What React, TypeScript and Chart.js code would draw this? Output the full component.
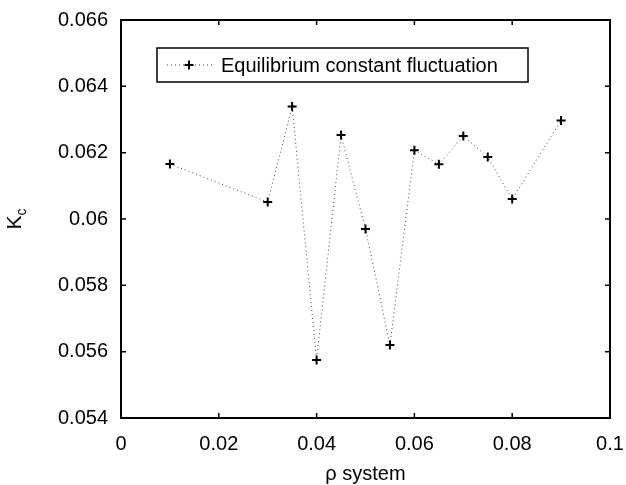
import React, { useEffect, useRef } from "react";
import { Chart, registerables } from "chart.js";

Chart.register(...registerables);

const rhoSystem = [0.01, 0.03, 0.035, 0.04, 0.045, 0.05, 0.055, 0.06, 0.065, 0.07, 0.075, 0.08, 0.09];
const kcValues = [0.06166, 0.06051, 0.06339, 0.05575, 0.06253, 0.0597, 0.0562, 0.06207, 0.06165, 0.0625, 0.06187, 0.0606, 0.06297];
const xTicks = [0, 0.02, 0.04, 0.06, 0.08, 0.1];
const yTicks = [0.054, 0.056, 0.058, 0.06, 0.062, 0.064, 0.066];
const seriesLabel = "Equilibrium constant fluctuation";
const xTitle = "ρ system";

const FONT = '"Liberation Sans", Arial, Helvetica, sans-serif';
const fmt = (v: number) => String(parseFloat(v.toFixed(4)));

const framePlugin = {
  id: "frame",
  afterDraw(chart: any) {
    const { ctx, chartArea: a, scales } = chart;
    const xs = scales.x;
    const ys = scales.y;
    ctx.save();
    ctx.strokeStyle = "#000";
    ctx.lineWidth = 2;
    ctx.strokeRect(a.left, a.top, a.right - a.left, a.bottom - a.top);
    ctx.lineWidth = 1.5;
    const tl = 5;
    ctx.beginPath();
    xTicks.forEach((v) => {
      const px = xs.getPixelForValue(v);
      ctx.moveTo(px, a.bottom);
      ctx.lineTo(px, a.bottom - tl);
      ctx.moveTo(px, a.top);
      ctx.lineTo(px, a.top + tl);
    });
    yTicks.forEach((v) => {
      const py = ys.getPixelForValue(v);
      ctx.moveTo(a.left, py);
      ctx.lineTo(a.left + tl, py);
      ctx.moveTo(a.right, py);
      ctx.lineTo(a.right - tl, py);
    });
    ctx.stroke();

    // axis titles
    ctx.fillStyle = "#000";
    ctx.font = `20px ${FONT}`;
    ctx.textAlign = "center";
    ctx.textBaseline = "middle";
    ctx.fillText(xTitle, (a.left + a.right) / 2, 474);

    ctx.save();
    ctx.translate(15, (a.top + a.bottom) / 2);
    ctx.rotate(-Math.PI / 2);
    ctx.textAlign = "left";
    ctx.textBaseline = "middle";
    ctx.font = `21px ${FONT}`;
    const kw = ctx.measureText("K").width;
    ctx.font = `14px ${FONT}`;
    const cw = ctx.measureText("c").width;
    const start = -(kw + cw) / 2;
    ctx.font = `21px ${FONT}`;
    ctx.fillText("K", start, 0);
    ctx.font = `14px ${FONT}`;
    ctx.fillText("c", start + kw, 7);
    ctx.restore();

    // legend
    const lx = 157, ly = 48, lw = 371, lh = 34;
    ctx.fillStyle = "#fff";
    ctx.fillRect(lx, ly, lw, lh);
    ctx.strokeStyle = "#000";
    ctx.lineWidth = 1.5;
    ctx.strokeRect(lx, ly, lw, lh);
    const cy = ly + lh / 2;
    ctx.save();
    ctx.strokeStyle = "#444";
    ctx.lineWidth = 1;
    ctx.setLineDash([1, 3]);
    ctx.beginPath();
    ctx.moveTo(167, cy);
    ctx.lineTo(215, cy);
    ctx.stroke();
    ctx.restore();
    ctx.lineWidth = 2;
    ctx.beginPath();
    ctx.moveTo(189 - 4.5, cy);
    ctx.lineTo(189 + 4.5, cy);
    ctx.moveTo(189, cy - 4.5);
    ctx.lineTo(189, cy + 4.5);
    ctx.stroke();
    ctx.fillStyle = "#000";
    ctx.font = `20px ${FONT}`;
    ctx.textAlign = "left";
    ctx.textBaseline = "middle";
    ctx.fillText(seriesLabel, 221, cy + 1);
    ctx.restore();
  },
};

export default function App() {
  const ref = useRef<HTMLCanvasElement>(null);
  useEffect(() => {
    if (!ref.current) return;
    const chart = new Chart(ref.current, {
      type: "line",
      data: {
        datasets: [
          {
            label: seriesLabel,
            data: rhoSystem.map((x, i) => ({ x, y: kcValues[i] })),
            borderColor: "#444",
            borderWidth: 1,
            borderDash: [1, 3],
            pointStyle: "cross",
            pointRadius: 4.5,
            pointBorderWidth: 2,
            pointBorderColor: "#000",
            pointBackgroundColor: "#000",
            tension: 0,
            fill: false,
          },
        ],
      },
      options: {
        responsive: false,
        animation: false,
        layout: { padding: { left: 0, right: 16, top: 20, bottom: 0 } },
        plugins: { legend: { display: false }, tooltip: { enabled: false } },
        scales: {
          x: {
            type: "linear",
            min: 0,
            max: 0.1,
            afterBuildTicks: (s: any) => { s.ticks = xTicks.map((v) => ({ value: v })); },
            afterFit: (s: any) => { s.height = 67; s.paddingLeft = 0; s.paddingRight = 0; },
            grid: { display: false, drawTicks: false },
            border: { display: false },
            ticks: {
              padding: 14,
              color: "#000",
              font: { family: FONT, size: 20 },
              maxRotation: 0,
              callback: (v: any) => fmt(Number(v)),
            },
          },
          y: {
            type: "linear",
            min: 0.054,
            max: 0.066,
            afterBuildTicks: (s: any) => { s.ticks = yTicks.map((v) => ({ value: v })); },
            afterFit: (s: any) => { s.width = 121; s.paddingTop = 0; s.paddingBottom = 0; },
            grid: { display: false, drawTicks: false },
            border: { display: false },
            ticks: {
              padding: 13,
              color: "#000",
              font: { family: FONT, size: 20 },
              callback: (v: any) => fmt(Number(v)),
            },
          },
        },
      },
      plugins: [framePlugin],
    });
    return () => chart.destroy();
  }, []);
  return (
    <div style={{ position: "absolute", left: 0, top: 0, width: 626, height: 485, background: "#fff" }}>
      <canvas ref={ref} width={626} height={485} style={{ display: "block" }} />
    </div>
  );
}
